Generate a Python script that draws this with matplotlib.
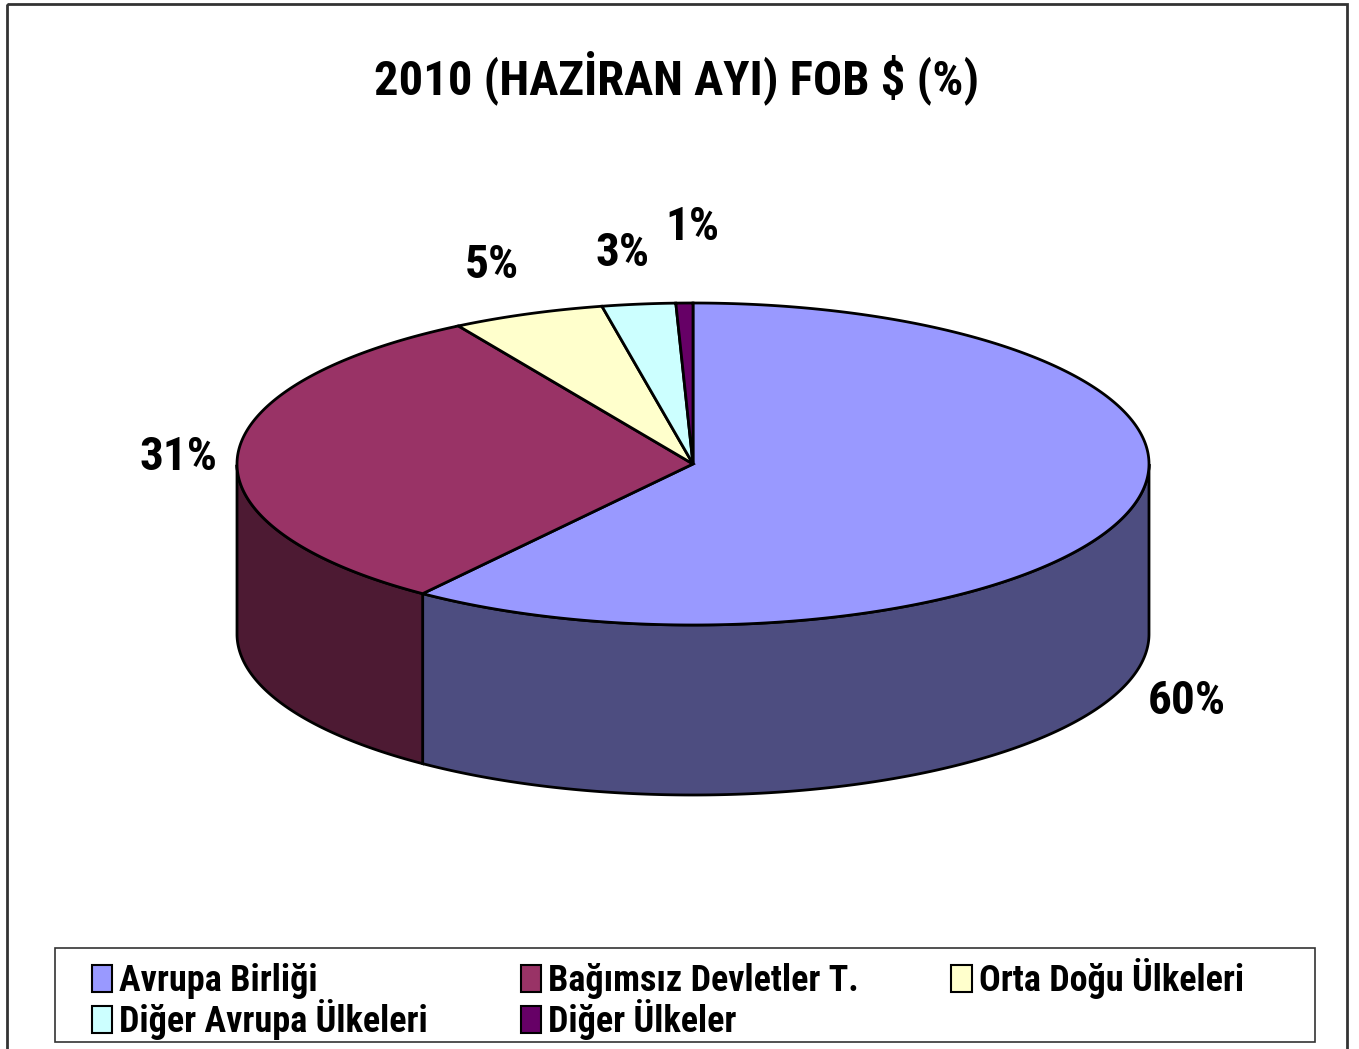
import numpy as np
import matplotlib
matplotlib.use("Agg")
import matplotlib.pyplot as plt
from matplotlib.patches import Polygon, Rectangle, Patch

plt.rcParams['font.family'] = ['Roboto Condensed', 'Liberation Sans Narrow', 'Roboto', 'DejaVu Sans']

title = "2010 (HAZİRAN AYI) FOB $ (%)"
categories = ["Avrupa Birliği", "Bağımsız Devletler T.", "Orta Doğu Ülkeleri",
              "Diğer Avrupa Ülkeleri", "Diğer Ülkeler"]
shares = [60.1, 31.3, 5.4, 2.6, 0.6]
top_colors = ["#9999FF", "#993366", "#FFFFCC", "#CCFFFF", "#660066"]

# layout of the flattened cylinder (pixel units, y down)
cx, cy = 693, 464
rx, ry = 456, 161
depth = 170

fig = plt.figure(figsize=(13.59, 10.49), dpi=100)
ax = fig.add_axes([0, 0, 1, 1])
ax.set_xlim(0, 1359)
ax.set_ylim(1049, 0)
ax.axis('off')

def pt(deg, h=0):
    t = np.radians(deg)
    return cx + rx * np.cos(t), cy - ry * np.sin(t) + h

def darker(c):
    r, g, b = matplotlib.colors.to_rgb(c)
    return (r * 0.5, g * 0.5, b * 0.5)

fracs = np.array(shares) / sum(shares)
starts = 90 - 360 * np.concatenate([[0], np.cumsum(fracs)[:-1]])
ends = starts - 360 * fracs

# side walls (only the front half is visible)
for a0, a1, col in zip(starts, ends, top_colors):
    t = np.linspace(a0, a1, 400)
    t = t[np.sin(np.radians(t)) <= 1e-9]
    if len(t) < 2:
        continue
    xs, ys = pt(t)
    poly = np.vstack([np.column_stack([xs, ys]),
                      np.column_stack([xs[::-1], ys[::-1] + depth])])
    ax.add_patch(Polygon(poly, closed=True, facecolor=darker(col),
                         edgecolor='black', lw=2, zorder=1))

# top faces
for a0, a1, col in zip(starts, ends, top_colors):
    t = np.linspace(a0, a1, 300)
    xs, ys = pt(t)
    poly = np.vstack([[cx, cy], np.column_stack([xs, ys])])
    ax.add_patch(Polygon(poly, closed=True, facecolor=col,
                         edgecolor='black', lw=2, zorder=2))

# percentage labels
nudge = [(9, 10), (-4, 3), (-16, -6), (-10, -6), (9, -30)]
for a0, a1, v, (dx, dy) in zip(starts, ends, shares, nudge):
    mid = (a0 + a1) / 2
    s = np.sin(np.radians(mid))
    x, y = pt(mid)
    x = cx + (x - cx) * 1.12
    y = cy + (y - cy) * 1.13
    if s < 0:
        y += depth
    else:
        y -= 25 * s
    ax.text(x + dx, y + dy, f"{round(v)}%", ha='center', va='center',
            fontsize=34, fontweight='bold', zorder=5)

ax.text(677, 78, title, ha='center', va='center', fontsize=35, fontweight='bold')

# outer border
ax.add_patch(Rectangle((7, 4), 1340, 1060, fill=False, edgecolor='#333333',
                       lw=2, zorder=0, clip_on=False))

# legend box
ax.add_patch(Rectangle((55, 948), 1260, 94, fill=False, edgecolor='#333333',
                       lw=1.2, zorder=3))

handles = [Patch(facecolor=c, edgecolor='black', lw=1.5) for c in top_colors]
order = [0, 3, 1, 4, 2]
leg = fig.legend([handles[i] for i in order], [categories[i] for i in order],
                 ncol=3, loc='lower left',
                 bbox_to_anchor=(88 / 1359, 1 - 1044 / 1049, 1160 / 1359, 90 / 1049),
                 mode='expand', frameon=False,
                 prop={'size': 26, 'weight': 'bold'},
                 handlelength=0.57, handleheight=0.78, handletextpad=0.2,
                 labelspacing=0.0, borderpad=0.1, columnspacing=1.0,
                 borderaxespad=0)

fig.savefig("out.png", dpi=100)
